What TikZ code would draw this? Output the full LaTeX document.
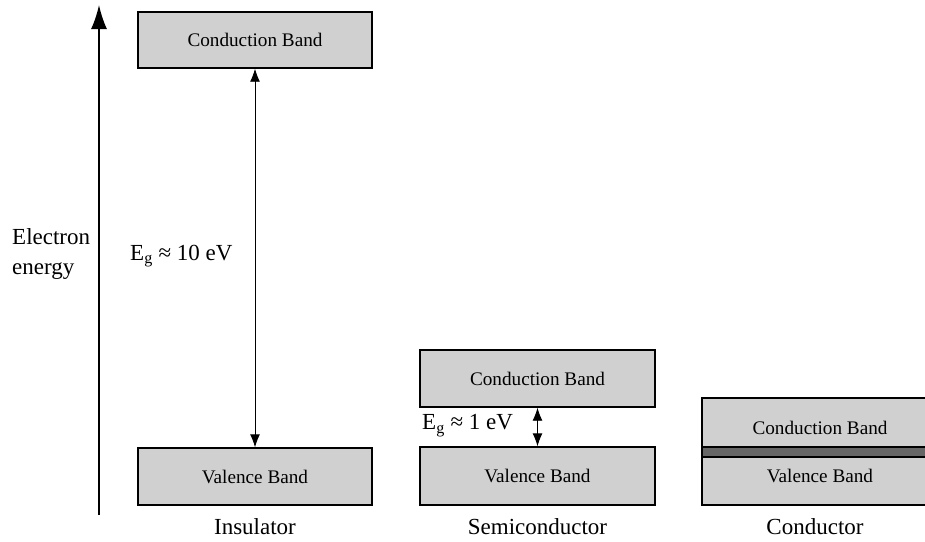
\documentclass[tikz,border=0pt]{standalone}
\usepackage{fontspec}
\setmainfont{Liberation Serif}
\usetikzlibrary{arrows.meta}
\tikzset{
  band/.style={draw=black, line width=1.4pt, fill=bandgray, inner sep=0pt,
    font=\fontsize{19.2}{22}\selectfont},
  lbl/.style={inner sep=0pt, font=\fontsize{23}{28}\selectfont},
  gap/.style={line width=0.9pt, {Latex[length=13pt,width=10pt]}-{Latex[length=13pt,width=10pt]}},
}
\definecolor{bandgray}{HTML}{D0D0D0}
\definecolor{overlapgray}{HTML}{666666}
\begin{document}
\begin{tikzpicture}[x=1pt,y=-1pt]
\useasboundingbox (0,0) rectangle (925,541);
\clip (0,0) rectangle (925,541);
% axis
\coordinate (axb) at (99,515);
\coordinate (axt) at (99,5);
\draw[line width=1.6pt, -{Latex[length=24pt,width=16pt]}] (axb) -- (axt);
\node[lbl, anchor=west, align=left, font=\fontsize{23}{30}\selectfont] (elab) at (12,254) {Electron\\energy};
% insulator
\node[band, minimum width=234pt, minimum height=56pt] (icb) at (255,40) {Conduction Band};
\node[band, minimum width=234pt, minimum height=57pt] (ivb) at (255,476.5) {Valence Band};
\draw[gap] (icb.south) -- (ivb.north);
\node[lbl, anchor=west] (ieg) at (130,256) {E\textsubscript{g} ≈ 10 eV};
\node[lbl] (ins) at (255,527) {Insulator};
% semiconductor
\node[band, minimum width=235pt, minimum height=57pt] (scb) at (537.5,378.5) {Conduction Band};
\node[band, minimum width=235pt, minimum height=58pt] (svb) at (537.5,476) {Valence Band};
\draw[gap] (scb.south) -- (svb.north);
\node[lbl, anchor=west] (seg) at (422,426) {E\textsubscript{g} ≈ 1 eV};
\node[lbl] (semi) at (537.5,527) {Semiconductor};
% conductor
\node[band, minimum width=236pt, minimum height=59pt] (ccb) at (820,427.5) {Conduction Band};
\node[band, minimum width=236pt, minimum height=58pt] (cvb) at (820,476) {Valence Band};
\node[draw=black, line width=1.4pt, fill=overlapgray, inner sep=0pt, minimum width=236pt, minimum height=10pt] (cov) at (820,452) {};
\node[lbl] (cond) at (815,527) {Conductor};
\end{tikzpicture}
\end{document}
